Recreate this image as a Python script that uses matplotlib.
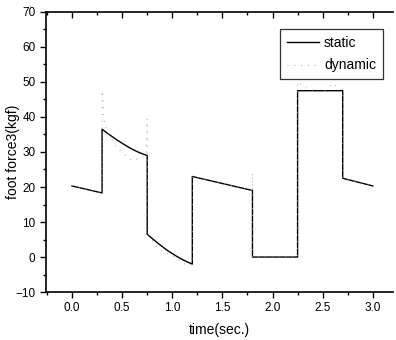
import numpy as np
import matplotlib.pyplot as plt
from matplotlib.ticker import MultipleLocator

plt.rcParams['font.family'] = ['Liberation Sans', 'DejaVu Sans']

# static foot force, piecewise with jumps at phase changes
t_static = [0.0, 0.3, 0.3, 0.35, 0.4, 0.45, 0.5, 0.55, 0.6, 0.65, 0.7, 0.75,
            0.75, 0.8, 0.85, 0.9, 0.95, 1.0, 1.05, 1.1, 1.15, 1.2,
            1.2, 1.8, 1.8, 2.25, 2.25, 2.7, 2.7, 3.0]
f_static = [20.3, 18.3, 36.5, 35.4, 34.4, 33.4, 32.5, 31.6, 30.8, 30.1, 29.5, 29.0,
            6.5, 5.3, 4.1, 3.0, 1.9, 1.0, 0.1, -0.7, -1.4, -2.0,
            23.0, 19.0, 0.0, 0.0, 47.5, 47.5, 22.5, 20.3]

# dynamic foot force, overshoots around the transitions
t_dyn = [0.0, 0.3, 0.3, 0.31, 0.32, 0.35, 0.45, 0.6, 0.74, 0.75, 0.75, 0.76,
         0.85, 1.0, 1.15, 1.2, 1.2, 1.8, 1.8, 1.8, 2.25, 2.25, 2.35, 2.5,
         2.6, 2.7, 2.7, 3.0]
f_dyn = [20.3, 18.3, 47.5, 44.0, 39.0, 36.0, 31.0, 27.5, 29.0, 39.5, 31.0, 6.5,
         2.5, 0.5, -2.5, -2.0, 23.0, 19.0, 24.0, 0.0, 0.0, 50.0, 48.0, 47.0,
         49.5, 47.5, 22.5, 20.3]

fig = plt.figure(figsize=(3.96, 3.4), dpi=100)
ax = fig.add_axes([0.116, 0.141, 0.876, 0.824])

ax.plot(t_static, f_static, color='black', lw=1.0, label='static')
ax.plot(t_dyn, f_dyn, color='#a0a0a0', lw=0.7, ls=(0, (1, 6)), label='dynamic')

ax.set_xlim(-0.26, 3.2)
ax.set_ylim(-10, 70)
ax.xaxis.set_major_locator(MultipleLocator(0.5))
ax.xaxis.set_minor_locator(MultipleLocator(0.25))
ax.yaxis.set_major_locator(MultipleLocator(10))
ax.yaxis.set_minor_locator(MultipleLocator(5))
ax.tick_params(which='both', direction='out', right=False,
               labelsize=8.5, width=1.0)
ax.tick_params(which='major', length=4)
ax.tick_params(which='minor', length=2.5)
# ticks along the top frame point into the plot
ax.tick_params(axis='x', which='both', top=True, labeltop=False)
for tk in ax.xaxis.get_major_ticks() + ax.xaxis.get_minor_ticks():
    tk.tick2line.set_marker(3)
ax.spines['right'].set_visible(False)
for s in ['left', 'bottom', 'top']:
    ax.spines[s].set_linewidth(1.2)

ax.set_xlabel('time(sec.)', fontsize=10, labelpad=6)
ax.set_ylabel('foot force3(kgf)', fontsize=10)
ax.yaxis.set_label_coords(-0.075, 0.5)

leg = ax.legend(loc='upper right', fontsize=10, frameon=True, fancybox=False,
                edgecolor='black', handlelength=2.3, borderpad=0.5,
                labelspacing=0.6, handletextpad=0.4,
                bbox_to_anchor=(0.992, 0.963))
leg.get_frame().set_linewidth(0.9)

fig.savefig('out.png', dpi=100)
